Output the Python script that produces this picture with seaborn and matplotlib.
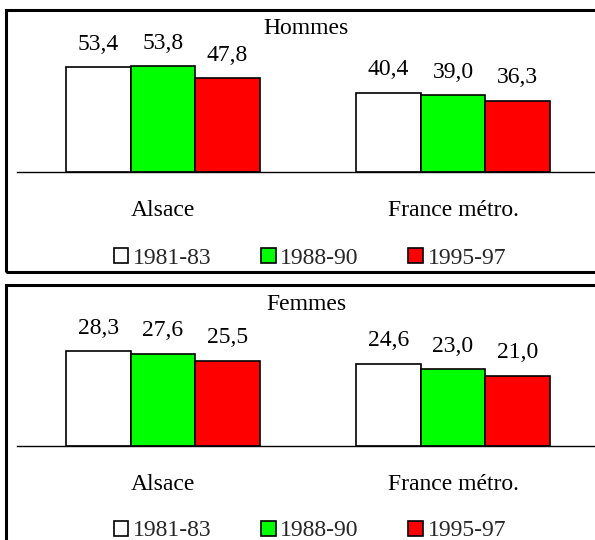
import matplotlib
matplotlib.use("Agg")
import matplotlib.pyplot as plt
from matplotlib.patches import Rectangle, Patch
import seaborn as sns
import pandas as pd

# Data
regions = ["Alsace", "France métro."]
periods = ["1981-83", "1988-90", "1995-97"]
hommes = {"1981-83": [53.4, 40.4], "1988-90": [53.8, 39.0], "1995-97": [47.8, 36.3]}
femmes = {"1981-83": [28.3, 24.6], "1988-90": [27.6, 23.0], "1995-97": [25.5, 21.0]}
colors = ["#ffffff", "#00ff00", "#ff0000"]


def to_long(d):
    rows = []
    for p in periods:
        for r, v in zip(regions, d[p]):
            rows.append({"region": r, "period": p, "value": v})
    return pd.DataFrame(rows)


sns.set_theme(style="white")
plt.rcParams["font.family"] = ["Liberation Serif", "DejaVu Serif"]

W, H = 595, 540
fig = plt.figure(figsize=(W / 100, H / 100), dpi=100)
FS = 17


def fx(x):
    return x / W


def fy(y):
    return 1 - y / H


def panel(df, title, base_y, top_y, ymax, frame_top, frame_bot, title_y, legend_y):
    ax = fig.add_axes([fx(17), fy(base_y), fx(605 - 17), (base_y - top_y) / H])
    sns.barplot(data=df, x="region", y="value", hue="period", order=regions,
                hue_order=periods, palette=colors, width=0.667, dodge=True,
                edgecolor="black", linewidth=1.2, saturation=1, ax=ax,
                legend=False)
    ax.set_xlim((17 - 163) / 290, (605 - 163) / 290)
    ax.set_ylim(0, ymax)
    for s in ["top", "left", "right"]:
        ax.spines[s].set_visible(False)
    ax.spines["bottom"].set_color("black")
    ax.spines["bottom"].set_linewidth(1.0)
    ax.set_xlabel("")
    ax.set_ylabel("")
    ax.set_yticks([])
    ax.tick_params(axis="x", length=0, pad=20, labelsize=FS, colors="black")
    ax.set_facecolor("none")
    for cont in ax.containers:
        for bar in cont:
            v = bar.get_height()
            ax.annotate(f"{v:.1f}".replace(".", ","),
                        xy=(bar.get_x() + bar.get_width() / 2, v),
                        xytext=(0, 16.5), textcoords="offset points",
                        ha="center", va="center", fontsize=FS, color="black")
    fig.text(fx(306), fy(title_y), title, ha="center", va="center",
             fontsize=FS, color="black")
    handles = [Patch(facecolor=c, edgecolor="black", linewidth=1.2) for c in colors]
    fig.legend(handles, periods, loc="center", bbox_to_anchor=(fx(310), fy(legend_y)),
               ncol=3, frameon=False, fontsize=FS, handlelength=0.61,
               handleheight=0.61, handletextpad=0.2, columnspacing=2.1,
               borderaxespad=0, borderpad=0)
    fig.add_artist(Rectangle((fx(6), fy(frame_bot)), 1.2, (frame_bot - frame_top) / H,
                             transform=fig.transFigure, fill=False,
                             edgecolor="black", linewidth=2.2))
    return ax


panel(to_long(hommes), "Hommes", 172, 20, 152 / 1.966, 10, 272, 29, 258)
panel(to_long(femmes), "Femmes", 446, 295, 151 / 3.34, 285, 600, 304, 531)

fig.savefig("out.png", dpi=100)
